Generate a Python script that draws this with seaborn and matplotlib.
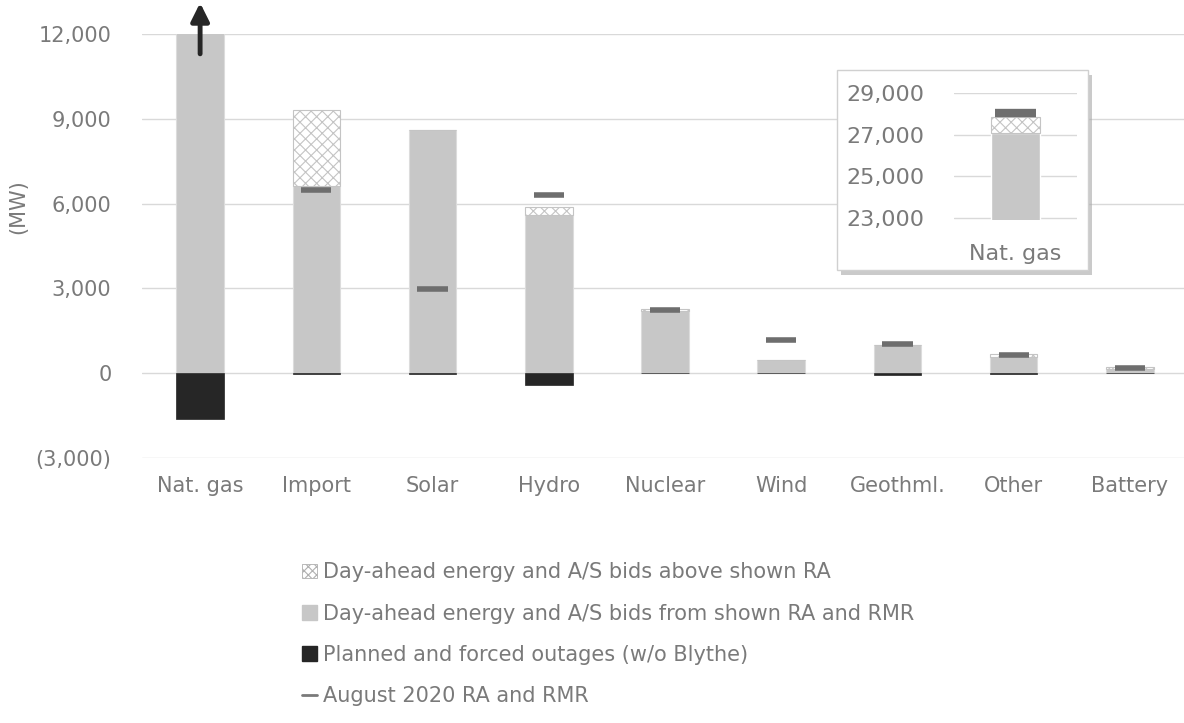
import numpy as np
import matplotlib
matplotlib.use('Agg')
import matplotlib.pyplot as plt
import matplotlib.patches as mpatches
from matplotlib.lines import Line2D
import seaborn as sns
import pandas as pd

categories = ['Nat. gas', 'Import', 'Solar', 'Hydro', 'Nuclear', 'Wind', 'Geothml.', 'Other', 'Battery']
shown_ra_bids = [27080, 6610, 8620, 5600, 2210, 460, 990, 575, 165]
above_ra_bids = [770, 2700, 0, 290, 50, 0, 0, 120, 45]
outages = [-1630, -30, -30, -430, 0, 0, -70, -40, 0]
ra_rmr = [28040, 6480, 2975, 6310, 2235, 1175, 1045, 660, 200]
yticks = [-3000, 0, 3000, 6000, 9000, 12000]
ytick_labels = ['(3,000)', '0', '3,000', '6,000', '9,000', '12,000']
inset_ticks = [23000, 25000, 27000, 29000]
inset_labels = ['23,000', '25,000', '27,000', '29,000']

sns.set_theme(style='white')
plt.rcParams['font.family'] = ['DejaVu Sans']
plt.rcParams['hatch.linewidth'] = 0.8

GRAY = '#c7c7c7'
DARK = '#262626'
RA = '#6e6e6e'
TXT = '#7a7a7a'
GRID = '#d9d9d9'
HATCH = '#c4c4c4'

df = pd.DataFrame({'cat': categories, 'shown': shown_ra_bids, 'above': above_ra_bids,
                   'out': outages, 'ra': ra_rmr})

fig = plt.figure(figsize=(11.84, 7.23), dpi=100)
ax = fig.add_axes([142 / 1184, 1 - 458 / 723, 1046 / 1184, (458 - 34) / 723])
ax.set_zorder(0)

sns.barplot(data=df, x='cat', y='shown', color=GRAY, width=0.41, ax=ax,
            edgecolor='#dcdcdc', linewidth=0.8, saturation=1)
sns.barplot(data=df, x='cat', y='out', color=DARK, width=0.41, ax=ax,
            edgecolor=DARK, linewidth=0.5, saturation=1)
xs = np.arange(len(categories))
ax.bar(xs, df['above'], bottom=df['shown'], width=0.41, color='white',
       edgecolor=HATCH, hatch='xxx', linewidth=0.8)
ax.hlines(df['ra'], xs - 0.13, xs + 0.13, color=RA, lw=4)

ax.set_xlim(-0.5, len(categories) - 0.5)
ax.set_ylim(-3000, 12000)
ax.set_yticks(yticks)
ax.set_yticklabels(ytick_labels)
ax.set_xlabel('')
ax.set_ylabel('')
ax.grid(axis='y', color=GRID, lw=1)
ax.set_axisbelow(True)
for s in ax.spines.values():
    s.set_visible(False)
ax.tick_params(axis='y', length=0, pad=22, labelsize=15, labelcolor=TXT)
ax.tick_params(axis='x', length=0, pad=13, labelsize=15, labelcolor=TXT)

# arrow showing nat. gas bar continues beyond the axis
ax.annotate('', xy=(0, 13200), xytext=(0, 11200),
            arrowprops=dict(arrowstyle='-|>,head_width=0.45,head_length=0.9',
                            color=DARK, lw=3.5), annotation_clip=False)

fig.text(18 / 1184, 1 - 207 / 723, '(MW)', rotation=90, ha='center', va='center',
         fontsize=15, color=TXT)

# inset box with shadow
bx, by, bw, bh = 837 / 1184, 1 - 270 / 723, 251 / 1184, 200 / 723
fig.patches.append(mpatches.Rectangle((bx + 4 / 1184, by - 5 / 723), bw, bh,
                                      transform=fig.transFigure, facecolor='#a8a8a8',
                                      edgecolor='none', alpha=0.6, zorder=0.5))
fig.patches.append(mpatches.Rectangle((bx, by), bw, bh, transform=fig.transFigure,
                                      facecolor='white', edgecolor='#d0d0d0', lw=1, zorder=0.8))

iax = fig.add_axes([954 / 1184, 1 - 220 / 723, 123 / 1184, 127 / 723])
iax.set_zorder(1)
iax.patch.set_alpha(0)
sns.barplot(x=[categories[0]], y=[shown_ra_bids[0]], color=GRAY, width=0.4, ax=iax, saturation=1)
iax.bar([0], [above_ra_bids[0]], bottom=[shown_ra_bids[0]], width=0.4, color='white',
        edgecolor=HATCH, hatch='xxx', linewidth=0.8)
iax.hlines([ra_rmr[0]], -0.163, 0.163, color=RA, lw=6)
iax.set_xlim(-0.5, 0.5)
iax.set_ylim(22900, 29000)
iax.set_yticks(inset_ticks)
iax.set_yticklabels(inset_labels)
iax.grid(axis='y', color=GRID, lw=1)
iax.set_axisbelow(True)
for s in iax.spines.values():
    s.set_visible(False)
iax.tick_params(axis='y', length=0, pad=21, labelsize=16, labelcolor=TXT)
iax.tick_params(axis='x', length=0, pad=17, labelsize=16, labelcolor=TXT)

handles = [
    mpatches.Patch(facecolor='white', edgecolor='#b0b0b0', hatch='xxxx', lw=0.6),
    mpatches.Patch(facecolor=GRAY, edgecolor=GRAY),
    mpatches.Patch(facecolor=DARK, edgecolor=DARK),
    Line2D([0], [0], color=TXT, lw=2),
]
labels = ['Day-ahead energy and A/S bids above shown RA',
          'Day-ahead energy and A/S bids from shown RA and RMR',
          'Planned and forced outages (w/o Blythe)',
          'August 2020 RA and RMR']
leg = fig.legend(handles, labels, loc='upper left', bbox_to_anchor=(294 / 1184, 1 - 554 / 723),
                 frameon=False, fontsize=15, labelcolor=TXT, handlelength=0.7,
                 handleheight=0.7, handletextpad=0.3, labelspacing=1.02, borderaxespad=0)

fig.savefig('out.png', dpi=100)
